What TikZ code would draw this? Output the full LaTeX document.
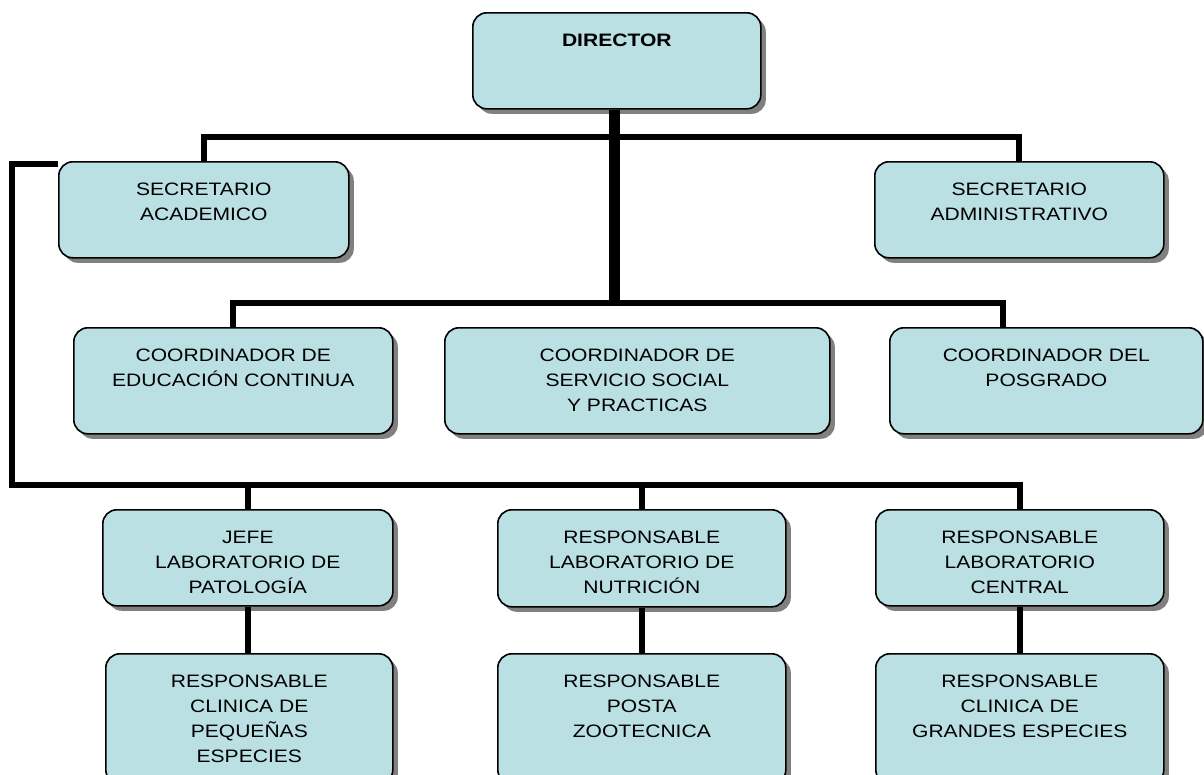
\documentclass[tikz,border=0pt]{standalone}
\usepackage{fontspec}
\setmainfont{Liberation Sans}[FakeStretch=1.17]
\usetikzlibrary{shadows}
\definecolor{boxfill}{RGB}{186,224,227}
\newcommand\boxtxt[3]{\parbox[c][#2][t]{#1}{\centering\fontsize{18}{25}\selectfont\rule{0pt}{34pt}#3\par}}
\begin{document}
\begin{tikzpicture}[x=1pt,y=-1pt,
  box/.style={draw=black, line width=1.6pt, fill=boxfill, rounded corners=14pt, inner sep=0pt, anchor=north west,
    drop shadow={shadow xshift=5pt, shadow yshift=-5pt, fill=black!50, opacity=1}},
  conn/.style={line width=6pt},
  trunk/.style={line width=11pt}]
\useasboundingbox (0,0) rectangle (1204,774);
\clip (0,0) rectangle (1204,774);

\node[box] (dir) at (472,12) {\boxtxt{288pt}{96pt}{\textbf{DIRECTOR}}};

\node[box] (sacad) at (58,161) {\boxtxt{290pt}{96pt}{SECRETARIO\\ACADEMICO}};
\node[box] (sadm) at (874,161) {\boxtxt{289pt}{96pt}{SECRETARIO\\ADMINISTRATIVO}};

\node[box] (ceduc) at (73,327) {\boxtxt{319pt}{106pt}{COORDINADOR DE\\EDUCACIÓN CONTINUA}};
\node[box] (cserv) at (444,327) {\boxtxt{385pt}{106pt}{COORDINADOR DE\\SERVICIO SOCIAL\\Y PRACTICAS}};
\node[box] (cposg) at (889,327) {\boxtxt{313pt}{106pt}{COORDINADOR DEL\\POSGRADO}};

\node[box] (jefe) at (102,509) {\boxtxt{290pt}{96pt}{JEFE\\LABORATORIO DE\\PATOLOGÍA}};
\node[box] (nutri) at (497,509) {\boxtxt{288pt}{97pt}{RESPONSABLE\\LABORATORIO DE\\NUTRICIÓN}};
\node[box] (central) at (875,509) {\boxtxt{288pt}{96pt}{RESPONSABLE\\LABORATORIO\\CENTRAL}};

\node[box] (peq) at (105,653) {\boxtxt{287pt}{130pt}{RESPONSABLE\\CLINICA DE\\PEQUEÑAS\\ESPECIES}};
\node[box] (posta) at (497,653) {\boxtxt{288pt}{130pt}{RESPONSABLE\\POSTA\\ZOOTECNICA}};
\node[box] (grandes) at (875,653) {\boxtxt{288pt}{130pt}{RESPONSABLE\\CLINICA DE\\GRANDES ESPECIES}};

\coordinate (ht) at (614,137);
\coordinate (cr) at (1003,303);
\coordinate (bl) at (12,164);
\coordinate (bb) at (12,485);

\draw[trunk] (dir.south -| ht) -- (ht |- cr);
\draw[conn] (sacad.north) |- (ht) -| (sadm.north);
\draw[conn] (ceduc.north) |- (cr) -- (cr |- cposg.north);
\draw[conn] ([yshift=-3pt]sacad.north west) -- (bl) -- (bb) -| (central.north);
\draw[conn] (jefe.north) -- (jefe.north |- bb);
\draw[conn] (nutri.north) -- (nutri.north |- bb);
\draw[conn] (jefe.south) -- (jefe.south |- peq.north);
\draw[conn] (nutri.south) -- (nutri.south |- posta.north);
\draw[conn] (central.south) -- (central.south |- grandes.north);
\end{tikzpicture}
\end{document}
